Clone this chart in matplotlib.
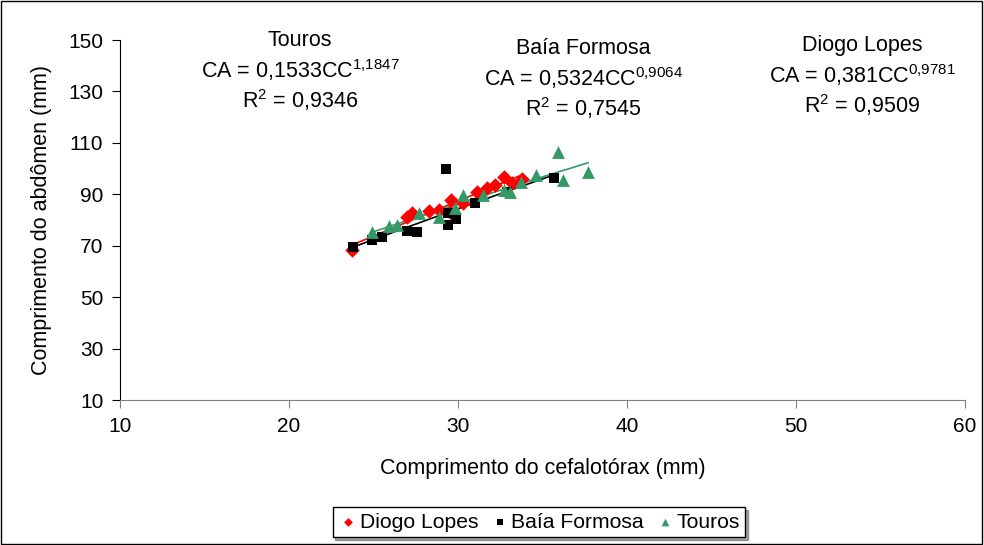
import numpy as np
import matplotlib.pyplot as plt
from matplotlib.patches import Rectangle

plt.rcParams['font.family'] = ['Liberation Sans', 'DejaVu Sans']
plt.rcParams['mathtext.fontset'] = 'custom'
plt.rcParams['mathtext.rm'] = 'Liberation Sans'
plt.rcParams['mathtext.it'] = 'Liberation Sans'
plt.rcParams['mathtext.default'] = 'regular'

# Diogo Lopes
dl_cc = [23.7, 27.0, 27.3, 28.3, 28.9, 29.5, 29.6, 30.3, 31.1, 31.7, 32.2, 32.7, 33.2, 33.8]
dl_ca = [68.3, 81.0, 82.7, 83.5, 83.9, 83.1, 87.8, 86.5, 90.9, 92.5, 93.6, 96.7, 94.5, 96.0]
# Baía Formosa
bf_cc = [23.8, 24.9, 25.5, 27.0, 27.6, 29.3, 29.4, 29.9, 29.4, 31.0, 32.9, 35.7]
bf_ca = [69.5, 72.2, 73.4, 75.9, 75.3, 99.8, 78.0, 80.4, 82.7, 86.6, 90.9, 96.3]
# Touros
to_cc = [24.9, 25.9, 26.4, 27.7, 28.9, 29.8, 30.3, 31.5, 32.7, 33.1, 33.7, 34.6, 35.9, 36.2, 37.7]
to_ca = [75.3, 77.6, 78.0, 82.7, 81.1, 84.5, 89.7, 89.7, 91.7, 91.0, 94.8, 97.5, 106.4, 95.5, 98.7]

fig = plt.figure(figsize=(9.84, 5.45), dpi=100)
ax = fig.add_axes([120/984, 1-400/545, 845/984, 360/545])

series = [
    ('Diogo Lopes', dl_cc, dl_ca, 'D', '#ff0000', 55),
    ('Baía Formosa', bf_cc, bf_ca, 's', '#000000', 55),
    ('Touros', to_cc, to_ca, '^', '#339966', 85),
]
for nome, x, y, m, c, s in series:
    ax.scatter(x, y, marker=m, color=c, s=s, label=nome, zorder=3, linewidths=0)
for nome, x, y, m, c, s in series:
    # linha de tendência potência
    b, a = np.polyfit(np.log(x), np.log(y), 1)
    xx = np.linspace(min(x), max(x), 50)
    ax.plot(xx, np.exp(a) * xx ** b, color=c, lw=1.2, zorder=2)

ax.set_xlim(10, 60)
ax.set_ylim(10, 150)
ax.set_xticks(np.arange(10, 61, 10))
ax.set_yticks(np.arange(10, 151, 20))
ax.spines['top'].set_visible(False)
ax.spines['right'].set_visible(False)
ax.spines['bottom'].set_color('#808080')
ax.tick_params(axis='x', colors='#808080', labelcolor='black')
ax.tick_params(direction='out', length=6, labelsize=15, pad=6)
ax.set_xlabel('Comprimento do cefalotórax (mm)', fontsize=15.5, labelpad=16)
ax.set_ylabel('Comprimento do abdômen (mm)', fontsize=15.5, labelpad=12)

fs = 15.5
txt = [
    (300, ['Touros', r'CA = 0,1533CC$^{1{,}1847}$', r'R$^2$ = 0,9346'], 40),
    (583, ['Baía Formosa', r'CA = 0,5324CC$^{0{,}9064}$', r'R$^2$ = 0,7545'], 48),
    (862, ['Diogo Lopes', r'CA = 0,381CC$^{0{,}9781}$', r'R$^2$ = 0,9509'], 45),
]
for xc, linhas, y0 in txt:
    for i, t in enumerate(linhas):
        fig.text(xc/984, 1-(y0+i*30)/545, t, ha='center', va='center', fontsize=fs)

leg = fig.legend(loc='center', bbox_to_anchor=(539/984, 1-522/545), ncols=3, fontsize=15.2,
                 frameon=True, fancybox=False, shadow=True, handletextpad=0.05,
                 columnspacing=0.5, borderpad=0.25, handlelength=1.0, markerscale=0.6)
leg.get_frame().set_edgecolor('black')
leg.get_frame().set_linewidth(1)

fig.patches.append(Rectangle((0.001, 0.001), 0.997, 0.997, transform=fig.transFigure,
                             fill=False, edgecolor='black', lw=1))
fig.savefig('out.png', dpi=100)
